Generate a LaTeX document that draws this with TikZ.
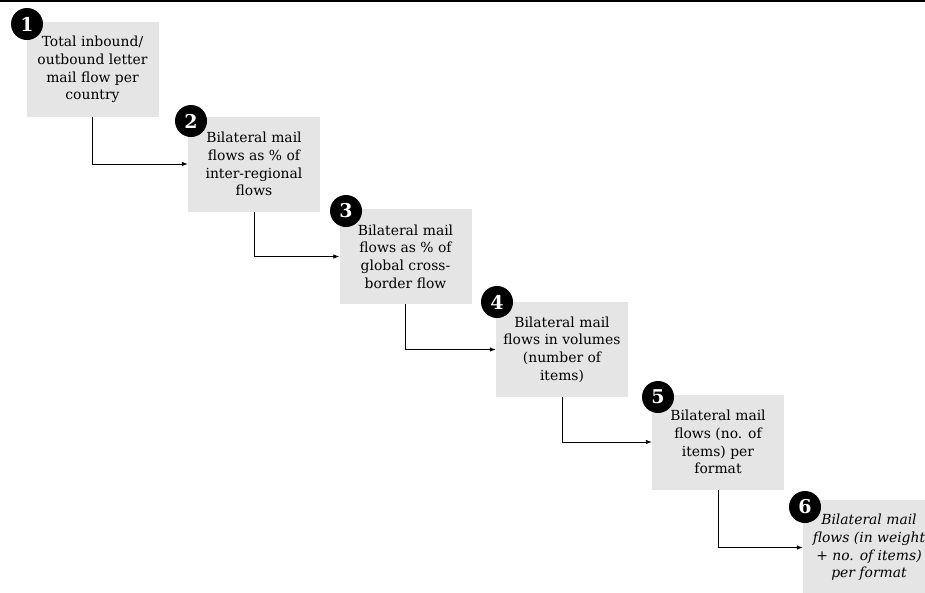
\documentclass[tikz,border=0pt]{standalone}
\usepackage{fontspec}
\setmainfont{DejaVu Serif}
\usetikzlibrary{arrows.meta}
\tikzset{
  stepbox/.style={fill=black!10, minimum width=132pt, minimum height=95pt,
    inner sep=0pt, align=center, font=\fontsize{13.9}{17.7}\selectfont},
  badge/.style={circle, fill=black, text=white, minimum size=32pt, inner sep=0pt,
    font=\bfseries\fontsize{19}{19}\selectfont},
  flow/.style={-{Latex[length=6pt,width=4.5pt]}, line width=0.7pt}
}
\begin{document}
\begin{tikzpicture}[x=1pt,y=-1pt]
                      \clip (0,0) rectangle (925,592);
                      \draw[line width=1.6pt] (0,1) -- (925,1);
                      % the six boxes
                      \node[stepbox] (b1) at (92.5,69.5) {Total inbound/\\outbound letter\\mail flow per\\country};
                      \node[stepbox] (b2) at (254,164) {Bilateral mail\\flows as \% of\\inter-regional\\flows};
                      \node[stepbox] (b3) at (405.5,256.5) {Bilateral mail\\flows as \% of\\global cross-\\border flow};
                      \node[stepbox] (b4) at (562,349.5) {Bilateral mail\\flows in volumes\\(number of\\items)};
                      \node[stepbox] (b5) at (718,442) {Bilateral mail\\flows (no. of\\items) per\\format};
                      \node[stepbox, font=\itshape\fontsize{13.9}{17.7}\selectfont] (b6) at (869,547.5) {Bilateral mail\\flows (in weight\\+ no. of items)\\per format};
                      \draw[flow] (b1.south) |- (b2.west);
                      \draw[flow] (b2.south) |- (b3.west);
                      \draw[flow] (b3.south) |- (b4.west);
                      \draw[flow] (b4.south) |- (b5.west);
                      \draw[flow] (b5.south) |- (b6.west);
                      % numbers
                      \node[badge] (n1) at (27,24) {1};
                      \node[badge] (n2) at (191,121) {2};
                      \node[badge] (n3) at (346,211) {3};
                      \node[badge] (n4) at (497,302) {4};
                      \node[badge] (n5) at (658,397) {5};
                      \node[badge] (n6) at (805,507) {6};
                    \end{tikzpicture}
\end{document}
